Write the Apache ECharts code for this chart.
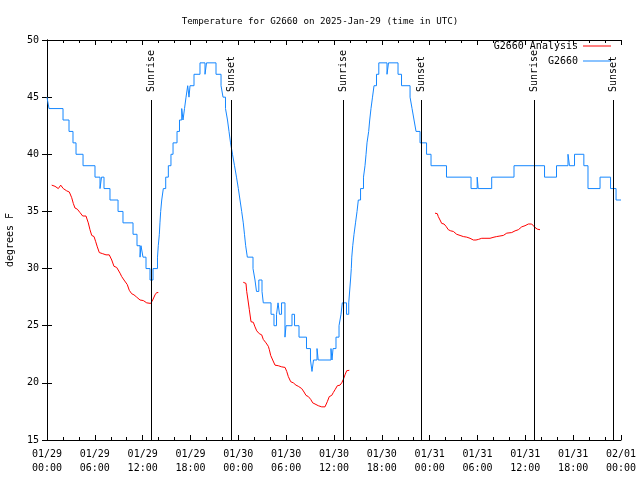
<!DOCTYPE html>
<html><head><meta charset="utf-8">
<script src="https://cdn.jsdelivr.net/npm/echarts@6/dist/echarts.min.js"></script>
<style>html,body{margin:0;padding:0;background:#fff}#c{width:640px;height:480px}</style>
</head><body><div id="c"></div>
<script>
// hours since 2025-01-29 00:00 UTC
const xTickLabels = ['01/29\n00:00','01/29\n06:00','01/29\n12:00','01/29\n18:00','01/30\n00:00','01/30\n06:00','01/30\n12:00','01/30\n18:00','01/31\n00:00','01/31\n06:00','01/31\n12:00','01/31\n18:00','02/01\n00:00'];
const yTicks = [15,20,25,30,35,40,45,50];

const g2660Hours = [0,0.25,2.01,2.76,3.26,3.64,4.52,6.02,6.65,6.84,7.15,7.90,8.91,9.53,10.79,11.29,11.67,11.79,12.04,12.42,12.92,13.30,13.86,13.96,14.09,14.17,14.26,14.39,14.59,14.89,15.22,15.55,15.81,16.31,16.62,16.90,17.06,17.25,17.44,17.65,17.81,17.94,18.44,19.19,19.82,20.01,21.20,21.83,22.08,22.39,22.64,22.83,23.02,23.27,23.52,23.77,24.00,24.21,24.42,24.62,24.77,24.92,25.13,25.84,26.09,26.28,26.57,26.97,27.13,28.10,28.47,28.79,28.98,29.16,29.42,29.85,29.98,30.73,31.05,31.61,32.55,33.05,33.24,33.43,33.87,34.02,35.62,35.75,35.88,36.25,36.63,36.88,37.04,37.57,37.85,38.07,38.17,38.23,38.35,38.51,38.70,38.89,39.05,39.33,39.70,39.89,40.02,40.14,40.35,40.48,40.64,40.83,41.02,41.33,41.62,42.65,42.84,44.03,44.47,45.54,45.79,46.04,46.29,46.79,47.61,48.17,50.11,53.19,53.96,54.09,55.78,58.58,62.41,63.91,65.35,65.54,66.17,67.34,67.86,69.37,70.69,71.38,72];
const g2660Temps = [45,44,43,42,41,40,39,38,37,38,37,36,35,34,33,32,31,32,31,30,29,30,31,32,33,34,35,36,37,38,39,40,41,42,43,44,43,44,45,46,45,46,47,48,47,48,47,46,45,44,43,42,41,40,39,38,37,36,35,34,33,32,31,30,29,28,29,28,27,26,25,26,27,26,27,24,25,26,25,24,23,22,21,22,23,22,23,22,23,24,25,26,27,26,27,29,30,31,32,33,34,35,36,37,38,39,40,41,42,43,44,45,46,47,48,47,48,47,46,45,44,43,42,41,40,39,38,37,38,37,38,39,38,39,40,39,40,39,37,38,37,36,36];

const analysisHours1 = [0.59,1.00,1.42,1.72,2.04,2.47,2.80,3.10,3.30,3.51,3.80,4.14,4.48,4.89,5.18,5.39,5.61,5.90,6.11,6.31,6.56,6.99,7.40,7.81,8.12,8.40,8.74,9.16,9.37,9.66,9.91,10.07,10.32,10.62,10.91,11.25,11.67,12.08,12.51,13.01,13.26,13.55,13.76,13.96];
const analysisTemps1 = [37.3,37.2,37.0,37.3,37.0,36.8,36.7,36.2,35.7,35.3,35.2,34.9,34.6,34.6,34.0,33.4,32.9,32.8,32.35,31.9,31.4,31.3,31.2,31.2,30.75,30.2,30.1,29.6,29.3,29.0,28.9,28.6,28.1,27.8,27.7,27.5,27.25,27.2,27.0,26.95,27.25,27.7,27.9,27.9];
const analysisHours2 = [24.62,24.96,25.05,25.21,25.38,25.59,25.88,26.09,26.31,26.63,26.93,27.13,27.47,27.76,27.89,28.06,28.31,28.60,29.01,29.44,29.86,30.07,30.27,30.57,30.90,31.23,31.52,31.95,32.24,32.49,32.78,33.08,33.33,33.62,34.03,34.46,34.87,35.16,35.41,35.71,35.91,36.13,36.42,36.75,36.97,37.17,37.38,37.59,37.92];
const analysisTemps2 = [28.8,28.7,28.0,27.25,26.4,25.35,25.3,24.9,24.55,24.3,24.2,23.8,23.5,23.2,22.9,22.4,22.0,21.55,21.5,21.4,21.35,21.0,20.55,20.1,20.0,19.8,19.7,19.5,19.2,18.9,18.8,18.55,18.25,18.15,18.0,17.9,17.9,18.35,18.8,18.9,19.15,19.4,19.75,19.8,20.0,20.3,20.7,21.06,21.1];
const analysisHours3 = [48.67,48.96,49.08,49.30,49.51,49.80,50.05,50.34,50.64,50.97,51.39,51.81,52.22,52.65,53.06,53.48,53.81,54.10,54.53,54.94,55.57,56.07,56.41,56.82,57.24,57.67,58.29,58.71,59.12,59.55,59.96,60.38,60.80,61.00,61.21,61.50,61.84];
const analysisTemps3 = [34.85,34.8,34.55,34.25,33.95,33.9,33.7,33.4,33.3,33.25,33.0,32.9,32.8,32.75,32.65,32.5,32.5,32.55,32.65,32.65,32.65,32.75,32.8,32.85,32.9,33.1,33.15,33.3,33.4,33.65,33.75,33.9,33.9,33.85,33.6,33.45,33.4];

const sunHours = [13.05,23.08,37.13,46.91,61.09,71.0];
const sunLabels = ['Sunrise','Sunset','Sunrise','Sunset','Sunrise','Sunset'];

const FONT = 'DejaVu Sans Mono';
const zip = (a,b)=>a.map((v,i)=>[v,b[i]]);
const analysisData = zip(analysisHours1,analysisTemps1).concat([[null,null]],zip(analysisHours2,analysisTemps2),[[null,null]],zip(analysisHours3,analysisTemps3));
const blueData = zip(g2660Hours,g2660Temps);
const sunData = sunHours.map((h,i)=>[h,sunLabels[i]]);

const chart = echarts.init(document.getElementById('c'), null, {renderer:'canvas'});
const axLine = {show:true, lineStyle:{color:'#000', width:1}};
chart.setOption({
  animation:false,
  backgroundColor:'#fff',
  title:{text:'Temperature for G2660 on 2025-Jan-29 (time in UTC)', left:'center', top:12,
    textStyle:{fontFamily:FONT, fontSize:9.2, fontWeight:'normal', color:'#000'}},
  grid:{left:47, right:19, top:40, bottom:40, containLabel:false, outerBoundsMode:'none'},
  legend:[
    {data:['G2660 Analysis'], right:29, top:41, orient:'vertical', align:'right', icon:'rect', itemWidth:28, itemHeight:1,
      textStyle:{fontFamily:FONT, fontSize:10, color:'#000'}, padding:0},
    {data:['G2660'], right:29, top:56, orient:'vertical', align:'right', icon:'rect', itemWidth:28, itemHeight:1,
      textStyle:{fontFamily:FONT, fontSize:10, color:'#000'}, padding:0}
  ],
  xAxis:[
    {type:'value', min:0, max:72, interval:6, position:'bottom',
      axisLine:axLine, splitLine:{show:false},
      axisTick:{show:true, inside:true, length:5, lineStyle:{color:'#000'}},
      minorTick:{show:true, splitNumber:3, length:3, lineStyle:{color:'#000'}},
      axisLabel:{fontFamily:FONT, fontSize:10, color:'#000', margin:7, lineHeight:14,
        formatter:v=>xTickLabels[Math.round(v/6)]}},
    {type:'value', min:0, max:72, interval:6, position:'top',
      axisLine:axLine, splitLine:{show:false},
      axisTick:{show:true, inside:true, length:5, lineStyle:{color:'#000'}},
      minorTick:{show:true, splitNumber:3, length:3, lineStyle:{color:'#000'}},
      axisLabel:{show:false}}
  ],
  yAxis:[
    {type:'value', min:15, max:50, interval:5, position:'left',
      name:'degrees F', nameLocation:'middle', nameGap:32, nameRotate:90,
      nameTextStyle:{fontFamily:FONT, fontSize:10, color:'#000'},
      axisLine:axLine, splitLine:{show:false},
      axisTick:{show:true, inside:true, length:5, lineStyle:{color:'#000'}},
      axisLabel:{fontFamily:FONT, fontSize:10, color:'#000', margin:8,
        formatter:v=>yTicks.includes(v)?String(v):''}},
    {type:'value', min:15, max:50, interval:5, position:'right',
      axisLine:axLine, splitLine:{show:false},
      axisTick:{show:true, inside:true, length:5, lineStyle:{color:'#000'}},
      axisLabel:{show:false}}
  ],
  series:[
    {name:'G2660 Analysis', type:'line', data:analysisData, showSymbol:false, symbol:'none', connectNulls:false,
      color:'#ff0000', lineStyle:{color:'#ff0000', width:1}},
    {name:'G2660', type:'line', data:blueData, step:'end', showSymbol:false, symbol:'none',
      color:'#1587ff', lineStyle:{color:'#1587ff', width:1}},
    {name:'sun', type:'custom', data:sunData, silent:true, z:5,
      renderItem:(params, api)=>{
        const x = Math.round(api.coord([api.value(0),15])[0]) + 0.5;
        const yb = api.coord([api.value(0),15])[1];
        const yt = api.coord([api.value(0),50])[1];
        return {type:'group', children:[
          {type:'line', shape:{x1:x, y1:yb, x2:x, y2:yt+60}, style:{stroke:'#000', lineWidth:1}},
          {type:'text', x:x, y:yt+52, rotation:Math.PI/2,
            style:{text:sunLabels[params.dataIndex], font:'10px "DejaVu Sans Mono"', fill:'#000', textAlign:'left', textVerticalAlign:'middle'}}
        ]};
      }}
  ]
});
</script></body></html>
